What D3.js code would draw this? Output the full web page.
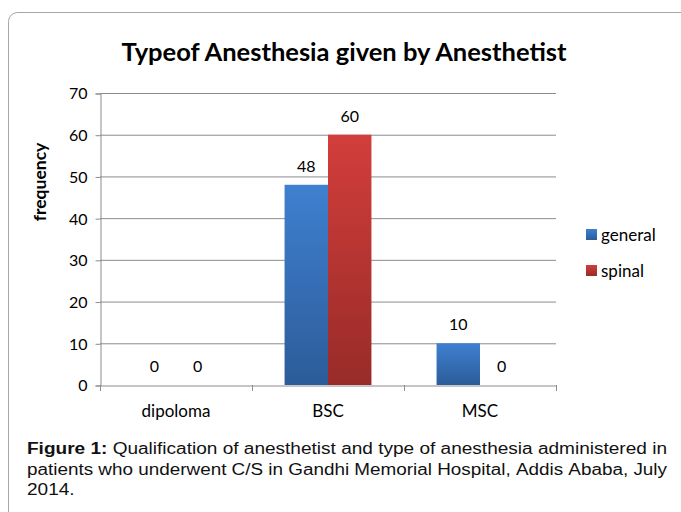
<!DOCTYPE html>
<html>
<head>
<meta charset="utf-8">
<script src="https://cdn.jsdelivr.net/npm/d3@7"></script>
<style>
  body { margin: 0; background: #fff; }
  svg { display: block; }
</style>
</head>
<body>
<svg width="681" height="512"></svg>
<script>
const categories = ["dipoloma", "BSC", "MSC"];
const seriesNames = ["general", "spinal"];
const generalValues = [0, 48, 10];
const spinalValues = [0, 60, 0];
const yTicks = [0, 10, 20, 30, 40, 50, 60, 70];
const captionLines = [
  ["Figure 1:", "Qualification of anesthetist and type of anesthesia administered in"],
  ["", "patients who underwent C/S in Gandhi Memorial Hospital, Addis Ababa, July"],
  ["", "2014."]
];

const svg = d3.select("svg");
const font = "Lato, 'Open Sans', sans-serif";
const margin = {left: 100, right: 556, top: 93, bottom: 385};

// gradients for bars
const defs = svg.append("defs");
const gradColors = {general: ["#3f80d0", "#2c5c99"], spinal: ["#d23e3b", "#982b28"]};
seriesNames.forEach(s => {
  const g = defs.append("linearGradient")
    .attr("id", "grad-" + s)
    .attr("x1", 0).attr("y1", 0).attr("x2", 0).attr("y2", 1);
  g.append("stop").attr("offset", "0%").attr("stop-color", gradColors[s][0]);
  g.append("stop").attr("offset", "100%").attr("stop-color", gradColors[s][1]);
});

// outer frame
svg.append("rect")
  .attr("x", 8.5).attr("y", 12.5)
  .attr("width", 720).attr("height", 540)
  .attr("rx", 9)
  .attr("fill", "none")
  .attr("stroke", "#a6a6a6");

// title
svg.append("text")
  .attr("x", 344).attr("y", 61)
  .attr("text-anchor", "middle")
  .attr("font-family", font)
  .attr("font-weight", "bold")
  .attr("font-size", 24)
  .attr("textLength", 445)
  .attr("lengthAdjust", "spacingAndGlyphs")
  .text("Typeof Anesthesia given by Anesthetist");

const x0 = d3.scaleBand().domain(categories).range([margin.left, margin.right]);
const x1 = d3.scaleBand().domain(seriesNames)
  .range([0, x0.bandwidth()])
  .paddingInner(0).paddingOuter(0.75);
const y = d3.scaleLinear().domain([0, 70]).range([margin.bottom, margin.top]);

// gridlines
svg.append("g")
  .selectAll("line")
  .data(yTicks.slice(1))
  .enter().append("line")
    .attr("x1", margin.left).attr("x2", margin.right)
    .attr("y1", d => y(d) + 0.5).attr("y2", d => y(d) + 0.5)
    .attr("stroke", "#8c8c8c");

// y axis
const yAxis = svg.append("g")
  .attr("transform", `translate(${margin.left + 0.5},0.5)`)
  .call(d3.axisLeft(y).tickValues(yTicks).tickSize(5).tickPadding(8));
yAxis.select(".domain").attr("stroke", "#8c8c8c");
yAxis.selectAll(".tick line").attr("stroke", "#8c8c8c");
yAxis.selectAll("text")
  .attr("font-family", font).attr("font-size", 16).attr("fill", "#000")
  .attr("dy", "0.34em");

// x axis
const xAxis = svg.append("g")
  .attr("transform", `translate(0,${margin.bottom + 0.5})`)
  .call(d3.axisBottom(x0).tickSize(0).tickPadding(19));
xAxis.select(".domain").attr("stroke", "#8c8c8c");
xAxis.selectAll("text")
  .attr("font-family", font).attr("font-size", 17).attr("fill", "#000");
// category separators
svg.append("g")
  .selectAll("line")
  .data(categories.map(c => x0(c)).concat([margin.right]))
  .enter().append("line")
    .attr("x1", d => Math.round(d) + 0.5).attr("x2", d => Math.round(d) + 0.5)
    .attr("y1", margin.bottom).attr("y2", margin.bottom + 6)
    .attr("stroke", "#8c8c8c");

// y label
svg.append("text")
  .attr("transform", "translate(46,182) rotate(-90)")
  .attr("text-anchor", "middle")
  .attr("font-family", font).attr("font-weight", "bold").attr("font-size", 17.5)
  .text("frequency");

// bars
const rows = categories.map((c, i) => ({
  cat: c,
  vals: [{s: "general", v: generalValues[i]}, {s: "spinal", v: spinalValues[i]}]
}));

const groups = svg.append("g")
  .selectAll("g")
  .data(rows)
  .enter().append("g")
    .attr("transform", d => `translate(${x0(d.cat)},0)`);

groups.selectAll("rect")
  .data(d => d.vals)
  .enter().append("rect")
    .attr("x", d => x1(d.s))
    .attr("width", x1.bandwidth())
    .attr("y", d => y(d.v))
    .attr("height", d => y(0) - y(d.v))
    .attr("fill", d => `url(#grad-${d.s})`);

groups.selectAll("text")
  .data(d => d.vals)
  .enter().append("text")
    .attr("x", d => x1(d.s) + x1.bandwidth() / 2)
    .attr("y", d => y(d.v) - 13)
    .attr("text-anchor", "middle")
    .attr("font-family", font).attr("font-size", 16)
    .text(d => d.v);

// legend
const legend = svg.append("g")
  .selectAll("g")
  .data(seriesNames)
  .enter().append("g")
    .attr("transform", (d, i) => `translate(586,${229 + i * 36})`);
legend.append("rect")
  .attr("width", 11).attr("height", 11)
  .attr("fill", d => `url(#grad-${d})`);
legend.append("text")
  .attr("x", 15).attr("y", 11.5)
  .attr("font-family", font).attr("font-size", 17)
  .text(d => d);

// caption: slightly wide type, first two lines justified
const capLeft = 27, capRight = 667, capSize = 16;
const capBase = [454, 474.5, 495];
let firstScale = 1;
captionLines.forEach((line, li) => {
  const words = [];
  if (line[0]) line[0].split(" ").forEach(w => words.push({w, bold: true}));
  line[1].split(" ").forEach(w => words.push({w, bold: false}));
  const texts = words.map(d => svg.append("text")
    .attr("y", capBase[li])
    .attr("font-family", "'Liberation Sans', Arial, sans-serif")
    .attr("font-size", capSize)
    .attr("font-weight", d.bold ? "bold" : "normal")
    .attr("fill", "#111")
    .text(d.w));
  const widths = texts.map(t => t.node().getComputedTextLength());
  const space = capSize * 0.278;
  const natural = d3.sum(widths) + space * (words.length - 1);
  const justify = li < captionLines.length - 1;
  const f = justify ? (capRight - capLeft) / natural : firstScale;
  if (li === 0) firstScale = f;
  let cx = 0;
  texts.forEach((t, i) => {
    t.attr("x", capLeft + cx * f)
      .attr("textLength", widths[i] * f)
      .attr("lengthAdjust", "spacingAndGlyphs");
    cx += widths[i] + space;
  });
});
</script>
</body>
</html>
